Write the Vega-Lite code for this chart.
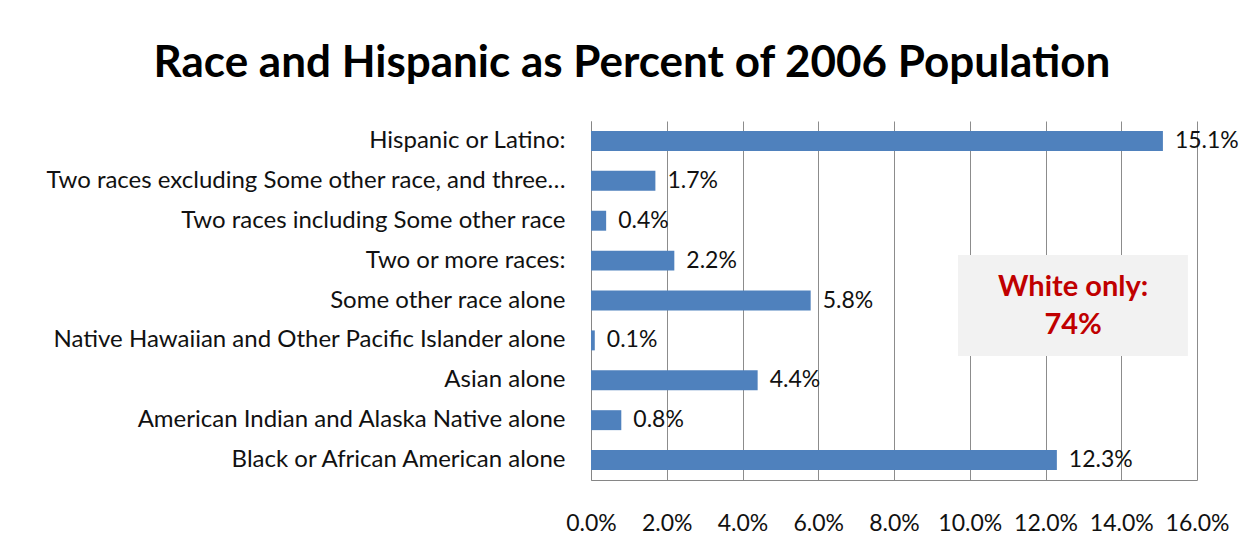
{
  "$schema": "https://vega.github.io/schema/vega-lite/v6.json",
  "width": 606,
  "height": 359,
  "autosize": "none",
  "padding": {"left": 591, "top": 121, "right": 54, "bottom": 80},
  "background": "white",
  "title": {
    "text": "Race and Hispanic as Percent of 2006 Population",
    "font": "Lato",
    "fontSize": 44,
    "fontWeight": "bold",
    "color": "black",
    "anchor": "middle",
    "dx": -262,
    "offset": 35
  },
  "config": {
    "view": {"stroke": null},
    "font": "Lato"
  },
  "layer": [
    {
      "data": {
        "values": [
          {"category": "Hispanic or Latino:", "value": 0.151},
          {"category": "Two races excluding Some other race, and three…", "value": 0.017},
          {"category": "Two races including Some other race", "value": 0.004},
          {"category": "Two or more races:", "value": 0.022},
          {"category": "Some other race alone", "value": 0.058},
          {"category": "Native Hawaiian and Other Pacific Islander alone", "value": 0.001},
          {"category": "Asian alone", "value": 0.044},
          {"category": "American Indian and Alaska Native alone", "value": 0.008},
          {"category": "Black or African American alone", "value": 0.123}
        ]
      },
      "encoding": {
        "y": {
          "field": "category",
          "type": "nominal",
          "sort": null,
          "scale": {"paddingInner": 0.5, "paddingOuter": 0.25},
          "axis": {
            "title": null,
            "labelFont": "Lato",
            "labelFontSize": 24,
            "labelColor": "#111111",
            "labelPadding": 26,
            "labelLimit": 700,
            "ticks": false,
            "domainColor": "#868686",
            "domainWidth": 1
          }
        },
        "x": {
          "field": "value",
          "type": "quantitative",
          "scale": {"domain": [0, 0.16], "nice": false},
          "axis": {
            "title": null,
            "values": [0, 0.02, 0.04, 0.06, 0.08, 0.1, 0.12, 0.14, 0.16],
            "format": ".1%",
            "labelFont": "Lato",
            "labelFontSize": 23,
            "labelColor": "#111111",
            "labelPadding": 43,
            "labelBaseline": "middle",
            "ticks": false,
            "grid": true,
            "gridColor": "#8c8c8c",
            "gridWidth": 1,
            "domainColor": "#868686",
            "labelFlush": false,
            "labelOverlap": false
          }
        }
      },
      "layer": [
        {
          "mark": {"type": "bar", "color": "#4F81BD"}
        },
        {
          "mark": {"type": "text", "align": "left", "baseline": "middle", "dx": 12, "fontSize": 23, "font": "Lato", "color": "#111111"},
          "encoding": {
            "text": {"field": "value", "type": "quantitative", "format": ".1%"}
          }
        }
      ]
    },
    {
      "encoding": {
        "y": {
          "field": "y",
          "type": "quantitative",
          "scale": {"domain": [0, 9], "nice": false, "zero": false},
          "axis": null
        },
        "x": {
          "field": "x",
          "type": "quantitative",
          "scale": {"domain": [0, 0.16], "nice": false},
          "axis": null
        }
      },
      "layer": [
        {
          "data": {"values": [{"x": 0.0969, "x2": 0.1576, "y": 5.64, "y2": 3.11}]},
          "mark": {"type": "rect", "color": "#F2F2F2"},
          "encoding": {
            "x2": {"field": "x2"},
            "y2": {"field": "y2"}
          }
        },
        {
          "data": {"values": [
            {"label": "White only:", "x": 0.1273, "y": 4.84},
            {"label": "74%", "x": 0.1273, "y": 3.89}
          ]},
          "mark": {"type": "text", "align": "center", "baseline": "middle", "fontSize": 29, "fontWeight": "bold", "font": "Lato", "color": "#C00000"},
          "encoding": {
            "text": {"field": "label", "type": "nominal"}
          }
        }
      ]
    }
  ],
  "resolve": {"scale": {"y": "independent"}, "axis": {"y": "independent", "x": "independent"}}
}
